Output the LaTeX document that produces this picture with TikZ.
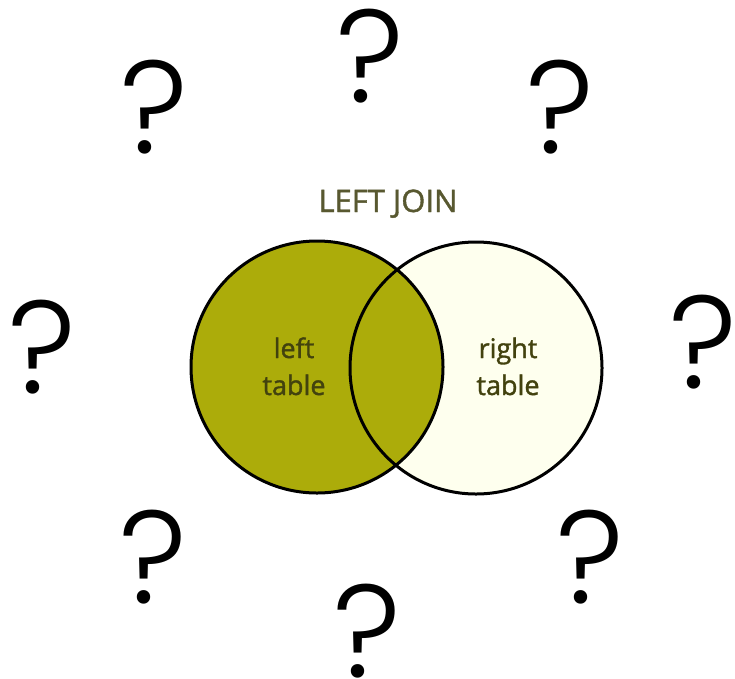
\documentclass[tikz,border=0pt]{standalone}
\usepackage{fontspec}
\newfontfamily\qfont{Poppins Light}
\newfontfamily\lfont[UprightFeatures={FakeBold=1.3}]{Open Sans}
\definecolor{olivefill}{RGB}{172,172,10}
\definecolor{creamfill}{RGB}{254,255,238}
\definecolor{labeltext}{RGB}{66,66,14}
\definecolor{titletext}{RGB}{88,88,48}
\begin{document}
\begin{tikzpicture}[x=1pt,y=-1pt,
  qmark/.style={anchor=base,inner sep=0pt,font=\qfont\fontsize{132}{132}\selectfont},
  lbl/.style={anchor=base,inner sep=0pt,text=labeltext,font=\lfont\fontsize{27}{27}\selectfont},
  ring/.style={draw=black,line width=3pt}]
\useasboundingbox (0,0) rectangle (735,678);
\coordinate (lc) at (317,367);
\coordinate (rc) at (476,368);
\fill[creamfill] (rc) circle[radius=126];
\fill[olivefill] (lc) circle[radius=126];
\draw[ring] (rc) circle[radius=126];
\draw[ring] (lc) circle[radius=126];
\node[anchor=base,inner sep=0pt,text=titletext,font=\lfont\fontsize{31}{31}\selectfont] (title) at (388,212) {LEFT JOIN};
\node[lbl] (l1) at (294,358) {left};
\node[lbl] (l2) at (294,395) {table};
\node[lbl] (r1) at (508,358) {right};
\node[lbl] (r2) at (508,395) {table};
\node[qmark] (q1) at (154,153) {?};
\node[qmark] (q2) at (370,102) {?};
\node[qmark] (q3) at (560,153) {?};
\node[qmark] (q4) at (42,393) {?};
\node[qmark] (q5) at (703,388) {?};
\node[qmark] (q6) at (153,603) {?};
\node[qmark] (q7) at (367,677) {?};
\node[qmark] (q8) at (590,603) {?};
\end{tikzpicture}
\end{document}
